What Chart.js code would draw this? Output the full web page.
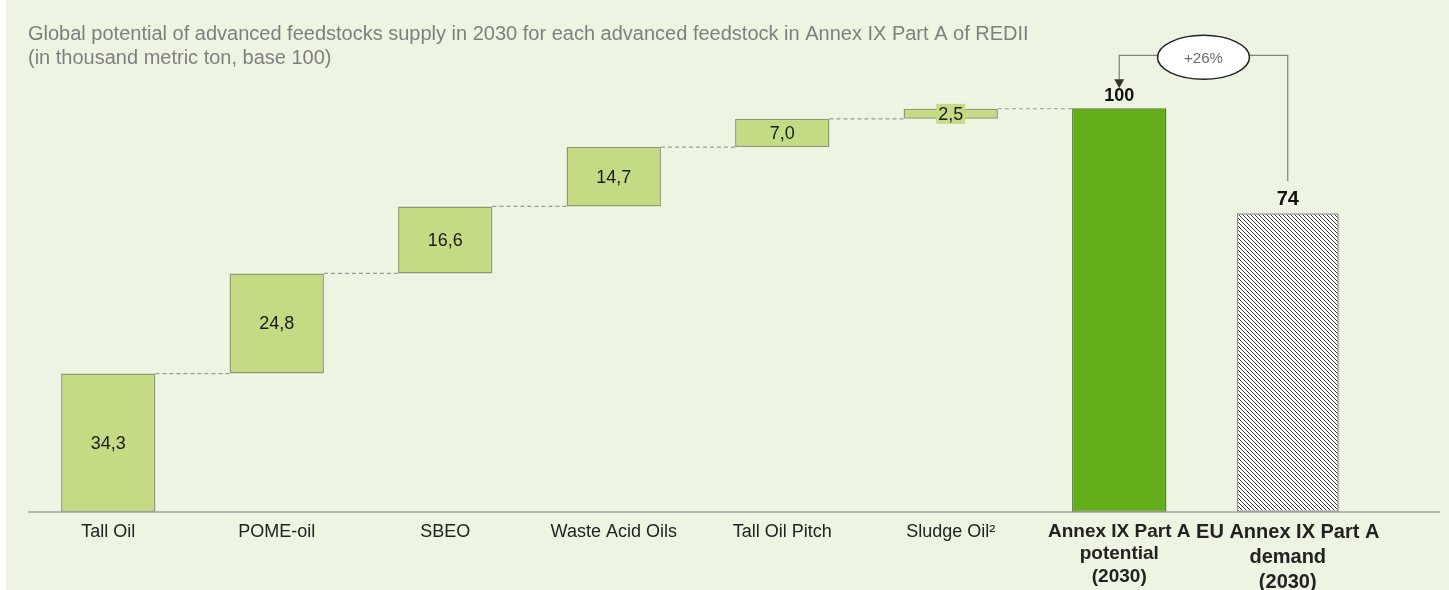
<!DOCTYPE html>
<html>
<head>
<meta charset="utf-8">
<script src="https://cdn.jsdelivr.net/npm/chart.js@4"></script>
<style>
  html, body { margin: 0; padding: 0; background: #edf5e2; overflow: hidden; }
  canvas { display: block; }
</style>
</head>
<body>
<canvas id="feedChart" width="1449" height="590"></canvas>
<script>
// ---- data ----
const categories = [
  ['Tall Oil'], ['POME-oil'], ['SBEO'], ['Waste Acid Oils'], ['Tall Oil Pitch'], ['Sludge Oil²'],
  ['Annex IX Part A', 'potential', '(2030)'],
  ['EU Annex IX Part A', 'demand', '(2030)']
];
const stepValues = [34.3, 24.8, 16.6, 14.7, 7.0, 2.5];
const totalPotential = 100;
const euDemand = 74;
const gapLabel = '+26%';
const titleLines = [
  'Global potential of advanced feedstocks supply in 2030 for each advanced feedstock in Annex IX Part A of REDII',
  '(in thousand metric ton, base 100)'
];

const FONT = '"Liberation Sans", Arial, sans-serif';
const lightGreen = '#c5db83';
const darkGreen = '#63ad1a';

// floating bars for the waterfall (EU demand sits in its own dataset)
let running = 0;
const supplyBars = stepValues.map(v => {
  const b = [running, running + v];
  running += v;
  return b;
});
supplyBars.push([0, totalPotential]);
supplyBars.push(null);
const demandBars = categories.map((c, i) => (i === categories.length - 1 ? [0, euDemand] : null));

// hatch for the EU demand bar
function makeHatch() {
  const c = document.createElement('canvas');
  c.width = 4; c.height = 4;
  const g = c.getContext('2d');
  g.fillStyle = '#ffffff';
  g.fillRect(0, 0, 4, 4);
  g.strokeStyle = '#3a3a3a';
  g.lineWidth = 1;
  g.beginPath();
  g.moveTo(-1, -1); g.lineTo(5, 5);
  g.moveTo(-1, 3); g.lineTo(1, 5);
  g.moveTo(3, -1); g.lineTo(5, 1);
  g.stroke();
  return g.createPattern(c, 'repeat');
}
const hatch = makeHatch();

const fmt = v => v.toFixed(1).replace('.', ',');

const backdrop = {
  id: 'backdrop',
  beforeDraw(chart) {
    const ctx = chart.ctx;
    ctx.save();
    ctx.fillStyle = '#edf5e2';
    ctx.fillRect(0, 0, chart.width, chart.height);
    ctx.fillStyle = '#ffffff';
    ctx.fillRect(0, 0, 6, chart.height);
    ctx.restore();
  },
  afterDraw(chart) {
    const ctx = chart.ctx;
    ctx.save();
    ctx.fillStyle = '#7f7f7f';
    ctx.font = '20px ' + FONT;
    ctx.textBaseline = 'alphabetic';
    ctx.fillText(titleLines[0], 28, 40);
    ctx.fillText(titleLines[1], 28, 64);
    ctx.restore();
  }
};

const waterfall = {
  id: 'waterfall',
  afterDatasetsDraw(chart) {
    const ctx = chart.ctx;
    const els = chart.getDatasetMeta(0).data;
    const eB = chart.getDatasetMeta(1).data[categories.length - 1];
    const eA = els[6];
    const area = chart.chartArea;
    ctx.save();

    // baseline
    ctx.strokeStyle = '#a3a3a3';
    ctx.lineWidth = 1.5;
    ctx.beginPath();
    ctx.moveTo(28, area.bottom);
    ctx.lineTo(1440, area.bottom);
    ctx.stroke();

    // dashed connectors
    ctx.strokeStyle = '#9a9a9a';
    ctx.lineWidth = 1.2;
    ctx.setLineDash([4, 3]);
    for (let i = 0; i < stepValues.length; i++) {
      const a = els[i], b = els[i + 1];
      const y = Math.min(a.y, a.base);
      ctx.beginPath();
      ctx.moveTo(a.x + a.width / 2, y);
      ctx.lineTo(b.x - b.width / 2, y);
      ctx.stroke();
    }
    ctx.setLineDash([]);

    // value labels in the steps
    ctx.textAlign = 'center';
    ctx.textBaseline = 'middle';
    ctx.font = '18px ' + FONT;
    stepValues.forEach((v, i) => {
      const el = els[i];
      const cy = (el.y + el.base) / 2;
      const txt = fmt(v);
      if (Math.abs(el.base - el.y) < 20) {
        const w = ctx.measureText(txt).width + 4;
        ctx.fillStyle = lightGreen;
        ctx.fillRect(el.x - w / 2, cy - 10, w, 20);
      }
      ctx.fillStyle = '#1a1a1a';
      ctx.fillText(txt, el.x, cy + 1);
    });

    // totals above bars
    ctx.textBaseline = 'alphabetic';
    ctx.fillStyle = '#111';
    ctx.font = 'bold 18px ' + FONT;
    ctx.fillText(String(totalPotential), eA.x, eA.y - 7);
    ctx.font = 'bold 20px ' + FONT;
    ctx.fillText(String(euDemand), eB.x, eB.y - 8);

    // +26% bracket
    const cx = (eA.x + eB.x) / 2;
    const cy = eA.y - 51;
    const rx = 46, ry = 22;
    ctx.strokeStyle = '#808080';
    ctx.lineWidth = 1.2;
    ctx.beginPath();
    ctx.moveTo(cx - rx, cy - 2);
    ctx.lineTo(eA.x, cy - 2);
    ctx.lineTo(eA.x, eA.y - 28);
    ctx.moveTo(cx + rx, cy - 2);
    ctx.lineTo(eB.x, cy - 2);
    ctx.lineTo(eB.x, eB.y - 32);
    ctx.stroke();
    ctx.fillStyle = '#333';
    ctx.beginPath();
    ctx.moveTo(eA.x - 5, eA.y - 29);
    ctx.lineTo(eA.x + 5, eA.y - 29);
    ctx.lineTo(eA.x, eA.y - 20);
    ctx.closePath();
    ctx.fill();

    ctx.beginPath();
    ctx.ellipse(cx, cy, rx, ry, 0, 0, Math.PI * 2);
    ctx.fillStyle = '#ffffff';
    ctx.fill();
    ctx.strokeStyle = '#222';
    ctx.lineWidth = 1.5;
    ctx.stroke();
    ctx.fillStyle = '#6b6b6b';
    ctx.font = '15px ' + FONT;
    ctx.textBaseline = 'middle';
    ctx.fillText(gapLabel, cx, cy + 1);

    ctx.restore();
  }
};

new Chart(document.getElementById('feedChart'), {
  type: 'bar',
  data: {
    labels: categories,
    datasets: [{
      data: supplyBars,
      backgroundColor: stepValues.map(() => lightGreen).concat([darkGreen, darkGreen]),
      borderColor: stepValues.map(() => '#8d9b73').concat(['#4f7f22', '#4f7f22']),
      borderWidth: 1.5,
      borderSkipped: false,
      grouped: false,
      categoryPercentage: 1,
      barPercentage: 0.56
    }, {
      data: demandBars,
      backgroundColor: hatch,
      borderColor: '#8a8a8a',
      borderWidth: 1.5,
      borderSkipped: false,
      grouped: false,
      categoryPercentage: 1,
      barPercentage: 0.605
    }]
  },
  options: {
    responsive: false,
    animation: false,
    layout: { padding: { left: 24, right: 77, top: 68, bottom: 0 } },
    plugins: { legend: { display: false }, tooltip: { enabled: false } },
    scales: {
      x: {
        offset: true,
        grid: { display: false, drawTicks: false },
        border: { display: false },
        ticks: {
          autoSkip: false,
          maxRotation: 0,
          padding: 8,
          color: '#222',
          font: ctx => {
            if (ctx.index === 7) return { family: FONT, size: 20, weight: 'bold', lineHeight: 1.25 };
            if (ctx.index === 6) return { family: FONT, size: 19, weight: 'bold', lineHeight: 1.2 };
            return { family: FONT, size: 18, lineHeight: 1.3 };
          }
        },
        afterFit: s => { s.height = 78; }
      },
      y: { display: false, min: 0, max: 110 }
    }
  },
  plugins: [backdrop, waterfall]
});
</script>
</body>
</html>
